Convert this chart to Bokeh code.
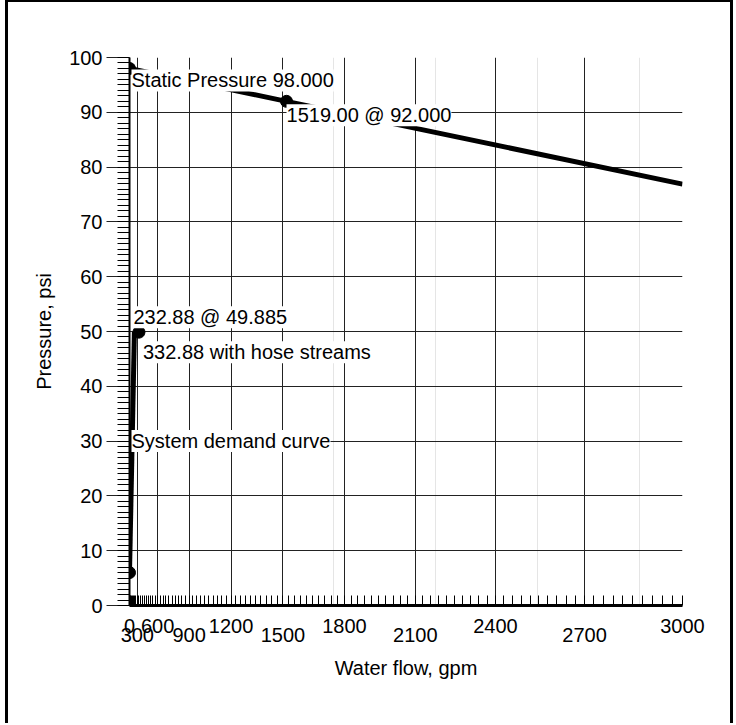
import numpy as np
from bokeh.plotting import figure
from bokeh.models import (Range1d, LinearAxis, FixedTicker, Grid, Label,
                          CustomJSTickFormatter)
from bokeh.embed import file_html
from bokeh.resources import INLINE

# ---------------- data ----------------
EXP = 1.85  # hydraulic graph paper: flow axis scaled as Q^1.85

supply_flow = [0.0, 1519.0, 3000.0]
supply_pressure = [98.0, 92.0, 76.9]

demand_flow = [0.0, 232.88]
demand_pressure = [6.0, 49.885]

hose_flow = [232.88, 332.88]
hose_pressure = [49.885, 49.885]

point_flow = [0.0, 1519.0, 0.0, 332.88]
point_pressure = [98.0, 92.0, 6.0, 49.885]

x_ticks_upper = [0, 600, 1200, 1800, 2400, 3000]
x_ticks_lower = [300, 900, 1500, 2100, 2700]
x_minor_step = 30
x_max = 3000
y_ticks = [0, 10, 20, 30, 40, 50, 60, 70, 80, 90, 100]
y_minor_step = 1

label_texts = ["Static Pressure 98.000", "1519.00 @ 92.000", "232.88 @ 49.885",
               "332.88 with hose streams", "System demand curve"]
label_flow = [0.0, 1519.0, 232.88, 332.88, 0.0]
label_pressure = [98.0, 92.0, 49.885, 49.885, 30.0]
label_align = ["left", "left", "left", "left", "left"]
label_baseline = ["top", "top", "bottom", "top", "middle"]
label_dx = [2, 0, -1, 4, 2]
label_dy = [-1, -3, 4, -9, 0]


def tx(v):
    return (np.asarray(v, dtype=float) ** EXP)


FONT = "Liberation Sans"
FS = "20px"

p = figure(width=728, height=723,
           x_range=Range1d(0, float(tx(x_max))), y_range=Range1d(0, 100),
           output_backend="svg", toolbar_location=None,
           x_axis_location=None, y_axis_location="left",
           min_border_left=121, min_border_right=54,
           min_border_top=55, min_border_bottom=120)
p.outline_line_color = None
p.background_fill_color = "white"
p.border_fill_color = "white"
p.styles = {"border-top": "2px solid black", "border-left": "3px solid black",
            "border-right": "3px solid black", "margin-left": "5px"}

# y axis
yax = p.yaxis[0]
yax.ticker = FixedTicker(ticks=y_ticks,
                         minor_ticks=list(np.arange(0, 100 + y_minor_step, y_minor_step)))
yax.axis_line_width = 2
yax.axis_line_color = "black"
yax.major_tick_out = 23
yax.major_tick_in = 0
yax.major_tick_line_color = "#222222"
yax.minor_tick_out = 12
yax.minor_tick_in = 0
yax.minor_tick_line_color = "black"
yax.major_label_standoff = 4
yax.major_label_text_font = FONT
yax.major_label_text_font_size = FS
yax.major_label_text_color = "black"
yax.axis_label = "Pressure, psi"
yax.axis_label_text_font = FONT
yax.axis_label_text_font_size = FS
yax.axis_label_text_font_style = "normal"
yax.axis_label_text_color = "black"
yax.axis_label_standoff = 11

p.ygrid.grid_line_color = "#222222"
p.ygrid.grid_line_width = 1
p.ygrid.minor_grid_line_color = None

# x axis (two stacked axes to alternate label heights)
fmt = CustomJSTickFormatter(code="return String(Math.round(Math.pow(tick, 1/%s)));" % EXP)
ax1 = LinearAxis(ticker=FixedTicker(ticks=tx(x_ticks_upper).tolist(),
                                    minor_ticks=tx(np.arange(0, x_max + x_minor_step, x_minor_step)).tolist()),
                 formatter=fmt)
ax1.axis_line_width = 3
ax1.axis_line_color = "black"
ax1.major_tick_in = 0
ax1.major_tick_out = 0
ax1.minor_tick_in = 10
ax1.minor_tick_out = 0
ax1.minor_tick_line_color = "black"
ax1.major_label_standoff = 13
ax1.major_label_text_font = FONT
ax1.major_label_text_font_size = FS
ax1.major_label_text_color = "black"
p.add_layout(ax1, "below")

ax2 = LinearAxis(ticker=FixedTicker(ticks=tx(x_ticks_lower).tolist()), formatter=fmt)
ax2.axis_line_color = None
ax2.major_tick_line_color = None
ax2.minor_tick_line_color = None
ax2.major_tick_in = 0
ax2.major_tick_out = 0
ax2.major_label_standoff = -8
ax2.major_label_text_font = FONT
ax2.major_label_text_font_size = FS
ax2.major_label_text_color = "black"
ax2.axis_label = "Water flow, gpm"
ax2.axis_label_text_font = FONT
ax2.axis_label_text_font_size = FS
ax2.axis_label_text_font_style = "normal"
ax2.axis_label_text_color = "black"
ax2.axis_label_standoff = 12
p.add_layout(ax2, "below")

xgrid = Grid(dimension=0, ticker=FixedTicker(ticks=sorted(tx(x_ticks_upper + x_ticks_lower).tolist())),
             grid_line_color="#222222", grid_line_width=1, minor_grid_line_color=None)
p.add_layout(xgrid)

# curves
p.line(tx(supply_flow), supply_pressure, line_color="black", line_width=5)
p.line(tx(demand_flow), demand_pressure, line_color="black", line_width=5)
p.line(tx(hose_flow), hose_pressure, line_color="black", line_width=5)
p.scatter(tx(point_flow), point_pressure, size=12, marker="circle",
          fill_color="black", line_color="black")

for t, fx, py, al, bl, dx, dy in zip(label_texts, label_flow, label_pressure,
                                     label_align, label_baseline, label_dx, label_dy):
    p.add_layout(Label(x=float(tx(fx)), y=py, text=t, x_offset=dx, y_offset=dy,
                       text_align=al, text_baseline=bl,
                       text_font=FONT, text_font_size=FS, text_color="black",
                       background_fill_color="white"))

open("out.html", "w").write(file_html(p, INLINE))
